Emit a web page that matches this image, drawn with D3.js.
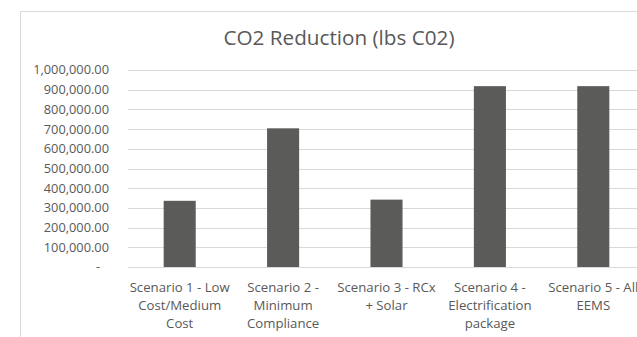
<!DOCTYPE html>
<html>
<head>
<meta charset="utf-8">
<script src="https://cdn.jsdelivr.net/npm/d3@7"></script>
<style>
  html, body { margin: 0; padding: 0; background: #fff; }
  svg { display: block; font-family: "Segoe UI", "Open Sans", "Noto Sans", sans-serif; }
</style>
</head>
<body>
<svg id="chart" width="637" height="337"></svg>
<script>
// CO2 reduction per scenario, in pounds
const categories = [
  ["Scenario 1 - Low", "Cost/Medium", "Cost"],
  ["Scenario 2 -", "Minimum", "Compliance"],
  ["Scenario 3 - RCx", "+ Solar"],
  ["Scenario 4 -", "Electrification", "package"],
  ["Scenario 5 - All", "EEMS"]
];
const values = [336000, 704000, 342000, 918000, 918000];
const yTicks = [0, 100000, 200000, 300000, 400000, 500000, 600000, 700000, 800000, 900000, 1000000];
const chartTitle = "CO2 Reduction (lbs C02)";

const svg = d3.select("#chart");
const textColor = "#595959";
const gridColor = "#d9d9d9";
const barColor = "#5b5c5a";

// Chart frame (continues past the right and bottom edges)
svg.append("rect")
  .attr("x", 20.5).attr("y", 11.5)
  .attr("width", 700).attr("height", 400)
  .attr("fill", "none").attr("stroke", gridColor).attr("stroke-width", 1);

const plotLeft = 128, plotRight = 645, plotTop = 70, plotBottom = 267;

const x = d3.scaleBand()
  .domain(d3.range(categories.length))
  .range([plotLeft, plotRight])
  .paddingInner(0.69)
  .paddingOuter(0.345);

const y = d3.scaleLinear()
  .domain([0, 1000000])
  .range([plotBottom, plotTop]);

// Horizontal gridlines
svg.append("g")
  .selectAll("line")
  .data(yTicks)
  .join("line")
  .attr("x1", plotLeft).attr("x2", 637)
  .attr("y1", d => Math.round(y(d)) + 0.5)
  .attr("y2", d => Math.round(y(d)) + 0.5)
  .attr("stroke", gridColor).attr("stroke-width", 1);

// Y axis labels (accounting-style, zero shown as a dash)
const fmt = d3.format(",.2f");
svg.append("g")
  .selectAll("text")
  .data(yTicks)
  .join("text")
  .attr("x", d => d === 0 ? 100 : 109)
  .attr("y", d => y(d))
  .attr("dy", "0.35em")
  .attr("text-anchor", "end")
  .attr("fill", textColor)
  .attr("font-size", 12.8)
  .text(d => d === 0 ? "-" : fmt(d));

// Bars
svg.append("g")
  .selectAll("rect")
  .data(values)
  .join("rect")
  .attr("x", (d, i) => x(i))
  .attr("width", x.bandwidth())
  .attr("y", d => y(d))
  .attr("height", d => y(0) - y(d))
  .attr("fill", barColor);

// Category labels, wrapped over several lines
const catG = svg.append("g")
  .selectAll("text")
  .data(categories)
  .join("text")
  .attr("x", (d, i) => x(i) + x.bandwidth() / 2)
  .attr("y", 291.5)
  .attr("text-anchor", "middle")
  .attr("fill", textColor)
  .attr("font-size", 13.2);
catG.selectAll("tspan")
  .data(d => d)
  .join("tspan")
  .attr("x", function () { return d3.select(this.parentNode).attr("x"); })
  .attr("dy", (d, i) => i === 0 ? 0 : 18.3)
  .text(d => d);

// Title
svg.append("text")
  .attr("x", 339)
  .attr("y", 45)
  .attr("text-anchor", "middle")
  .attr("fill", textColor)
  .attr("font-size", 20.7)
  .text(chartTitle);
</script>
</body>
</html>
